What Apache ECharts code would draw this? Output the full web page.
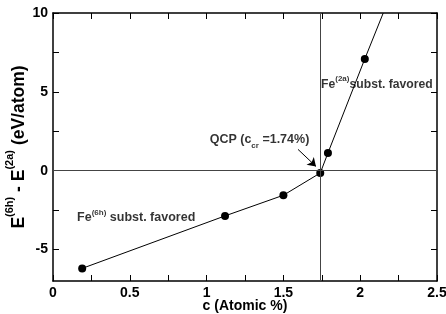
<!DOCTYPE html>
<html>
<head>
<meta charset="utf-8">
<script src="https://cdn.jsdelivr.net/npm/echarts@6/dist/echarts.min.js"></script>
<style>
  html, body { margin: 0; padding: 0; background: #fff; }
  #chart { width: 446px; height: 314px; }
</style>
</head>
<body>
<div id="chart"></div>
<script>
// concentration (atomic %) and energy difference (eV/atom)
const conc = [0.19, 1.12, 1.50, 1.74, 1.79, 2.03, 2.15];
const energy = [-6.2, -2.87, -1.56, -0.15, 1.12, 7.09, 10];
const xLabels = [0, 0.5, 1, 1.5, 2, 2.5];
const xTicks = [0, 0.25, 0.5, 0.75, 1, 1.25, 1.5, 1.75, 2, 2.25, 2.5];
const yLabels = [-5, 0, 5, 10];
const yTicks = [-5, -2.5, 0, 2.5, 5, 7.5, 10];
const qcp = 1.74;

const font = 'Liberation Sans, Arial, Helvetica, sans-serif';
const rich = {
  b: { fontFamily: font, fontWeight: 'bold', fontSize: 12.5, color: '#000', lineHeight: 16, verticalAlign: 'bottom' },
  n: { fontFamily: font, fontWeight: 'bold', fontSize: 12.2, color: '#000', lineHeight: 16, verticalAlign: 'bottom' },
  s: { fontFamily: font, fontWeight: 'bold', fontSize: 8, color: '#000', lineHeight: 16, verticalAlign: 'top' },
  lo: { fontFamily: font, fontWeight: 'bold', fontSize: 8, color: '#000', lineHeight: 16, verticalAlign: 'bottom', padding: [0, 0, -3, 0] }
};

const notes = [
  { value: [0.157, -2.9], label: '{b|Fe}{s|(6h)}{b| subst. favored}' },
  { value: [1.745, 5.6], label: '{n|Fe}{s|(2a)}{n|subst. favored}' },
  { value: [1.02, 2.05], label: '{b|QCP (c}{lo|cr}{b| =1.74%)}' }
];

const points = conc.map((c, i) => {
  const item = { value: [c, energy[i]] };
  if (i === conc.length - 1) item.symbol = 'none';
  return item;
});

function boxAxis(extra) {
  return Object.assign({
    type: 'value',
    nameMoveOverlap: false,
    axisLine: { onZero: false, lineStyle: { color: '#000', width: 1.5 } },
    splitLine: { show: false }
  }, extra);
}

const chart = echarts.init(document.getElementById('chart'));
chart.setOption({
  animation: false,
  grid: { left: 53, right: 9, top: 13, bottom: 33, outerBoundsMode: 'none', containLabel: false },
  xAxis: [boxAxis({
    min: 0, max: 2.5,
    name: 'c (Atomic %)', nameLocation: 'middle', nameGap: 18,
    nameTextStyle: { fontFamily: font, fontWeight: 'bold', fontSize: 14, color: '#000', verticalAlign: 'top' },
    axisTick: { inside: true, length: 6, customValues: xTicks, lineStyle: { color: '#000' } },
    axisLabel: { customValues: xLabels, margin: 5, fontFamily: font, fontWeight: 'bold', fontSize: 14, color: '#000' }
  }), boxAxis({
    min: 0, max: 2.5, position: 'top',
    axisTick: { inside: true, length: 6, customValues: xTicks, lineStyle: { color: '#000' } },
    axisLabel: { show: false }
  })],
  yAxis: [boxAxis({
    min: -7, max: 10,
    name: '{b|E}{s|(6h)}{b| - E}{s|(2a)}{b| (eV/atom)}',
    nameLocation: 'middle', nameGap: 25, nameRotate: 90,
    nameTextStyle: {
      rich: {
        b: { fontFamily: font, fontWeight: 'bold', fontSize: 17.5, color: '#000', lineHeight: 24, verticalAlign: 'bottom' },
        s: { fontFamily: font, fontWeight: 'bold', fontSize: 11, color: '#000', lineHeight: 24, verticalAlign: 'top' }
      }
    },
    axisTick: { inside: true, length: 6, customValues: yTicks, lineStyle: { color: '#000' } },
    axisLabel: { customValues: yLabels, margin: 5, fontFamily: font, fontWeight: 'bold', fontSize: 14, color: '#000' }
  }), boxAxis({
    min: -7, max: 10, position: 'right',
    axisTick: { inside: true, length: 6, customValues: yTicks, lineStyle: { color: '#000' } },
    axisLabel: { show: false }
  })],
  series: [{
    type: 'line',
    data: points,
    clip: true,
    symbol: 'circle', symbolSize: 8,
    itemStyle: { color: '#000' },
    lineStyle: { color: '#000', width: 1 },
    markLine: {
      silent: true, symbol: 'none',
      label: { show: false },
      lineStyle: { color: '#444', width: 1, type: 'solid' },
      data: [
        { xAxis: qcp },
        { yAxis: 0 },
        [
          { coord: [1.595, 1.35], symbol: 'none' },
          { coord: [1.712, 0.27], symbol: 'arrow', symbolSize: 8, lineStyle: { color: '#000' } }
        ]
      ]
    },
    z: 3
  }, {
    type: 'scatter',
    symbolSize: 0,
    data: notes.map(n => ({ value: n.value, label: { formatter: n.label } })),
    label: { show: true, position: 'right', distance: 0, rich: rich },
    silent: true
  }]
});
</script>
</body>
</html>
